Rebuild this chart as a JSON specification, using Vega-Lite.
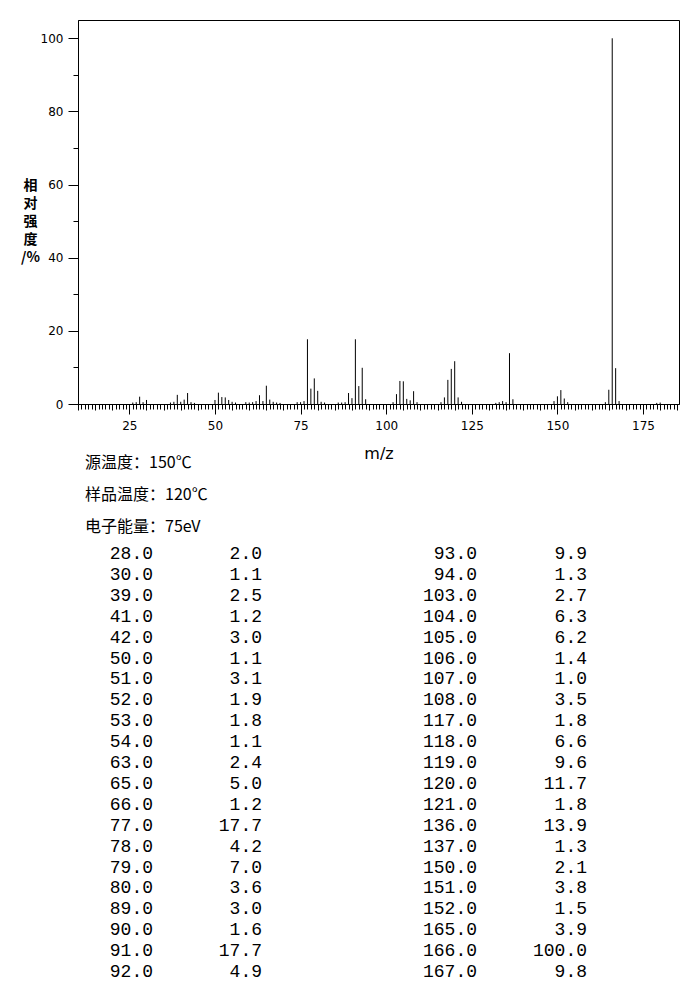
{
  "$schema": "https://vega.github.io/schema/vega-lite/v6.json",
  "description": "Mass spectrum with peak list (m/z vs relative intensity).",
  "autosize": {"type": "none"},
  "padding": {"left": 78, "top": 20, "right": 11, "bottom": 588},
  "background": "white",
  "width": 601,
  "height": 384,
  "config": {"view": {"stroke": "black", "strokeWidth": 1}},
  "datasets": {
    "peaks": [
      {"mz": 26, "intensity": 0.4}, {"mz": 27, "intensity": 0.5}, {"mz": 28, "intensity": 2.0},
      {"mz": 29, "intensity": 0.5}, {"mz": 30, "intensity": 1.1}, {"mz": 37, "intensity": 0.4},
      {"mz": 38, "intensity": 0.6}, {"mz": 39, "intensity": 2.5}, {"mz": 40, "intensity": 0.6},
      {"mz": 41, "intensity": 1.2}, {"mz": 42, "intensity": 3.0}, {"mz": 43, "intensity": 0.5},
      {"mz": 44, "intensity": 0.3}, {"mz": 50, "intensity": 1.1}, {"mz": 51, "intensity": 3.1},
      {"mz": 52, "intensity": 1.9}, {"mz": 53, "intensity": 1.8}, {"mz": 54, "intensity": 1.1},
      {"mz": 55, "intensity": 0.6}, {"mz": 56, "intensity": 0.4}, {"mz": 59, "intensity": 0.5},
      {"mz": 60, "intensity": 0.4}, {"mz": 61, "intensity": 0.5}, {"mz": 62, "intensity": 0.8},
      {"mz": 63, "intensity": 2.4}, {"mz": 64, "intensity": 0.8}, {"mz": 65, "intensity": 5.0},
      {"mz": 66, "intensity": 1.2}, {"mz": 67, "intensity": 0.6}, {"mz": 68, "intensity": 0.4},
      {"mz": 69, "intensity": 0.3}, {"mz": 74, "intensity": 0.5}, {"mz": 75, "intensity": 0.5},
      {"mz": 76, "intensity": 0.8}, {"mz": 77, "intensity": 17.7}, {"mz": 78, "intensity": 4.2},
      {"mz": 79, "intensity": 7.0}, {"mz": 80, "intensity": 3.6}, {"mz": 81, "intensity": 0.6},
      {"mz": 82, "intensity": 0.4}, {"mz": 86, "intensity": 0.4}, {"mz": 87, "intensity": 0.4},
      {"mz": 88, "intensity": 0.5}, {"mz": 89, "intensity": 3.0}, {"mz": 90, "intensity": 1.6},
      {"mz": 91, "intensity": 17.7}, {"mz": 92, "intensity": 4.9}, {"mz": 93, "intensity": 9.9},
      {"mz": 94, "intensity": 1.3}, {"mz": 102, "intensity": 0.5}, {"mz": 103, "intensity": 2.7},
      {"mz": 104, "intensity": 6.3}, {"mz": 105, "intensity": 6.2}, {"mz": 106, "intensity": 1.4},
      {"mz": 107, "intensity": 1.0}, {"mz": 108, "intensity": 3.5}, {"mz": 109, "intensity": 0.5},
      {"mz": 116, "intensity": 0.5}, {"mz": 117, "intensity": 1.8}, {"mz": 118, "intensity": 6.6},
      {"mz": 119, "intensity": 9.6}, {"mz": 120, "intensity": 11.7}, {"mz": 121, "intensity": 1.8},
      {"mz": 122, "intensity": 0.6}, {"mz": 132, "intensity": 0.3}, {"mz": 133, "intensity": 0.5},
      {"mz": 134, "intensity": 0.8}, {"mz": 135, "intensity": 0.5}, {"mz": 136, "intensity": 13.9},
      {"mz": 137, "intensity": 1.3}, {"mz": 149, "intensity": 0.8}, {"mz": 150, "intensity": 2.1},
      {"mz": 151, "intensity": 3.8}, {"mz": 152, "intensity": 1.5}, {"mz": 153, "intensity": 0.5},
      {"mz": 164, "intensity": 0.5}, {"mz": 165, "intensity": 3.9}, {"mz": 166, "intensity": 100.0},
      {"mz": 167, "intensity": 9.8}, {"mz": 168, "intensity": 0.8}, {"mz": 179, "intensity": 0.3},
      {"mz": 180, "intensity": 0.4}
    ],
    "notes": [
      {"label": "源温度：150℃"},
      {"label": "样品温度：120℃"},
      {"label": "电子能量：75eV"}
    ]
  },
  "resolve": {"scale": {"x": "independent", "y": "independent"}},
  "layer": [
    {
      "data": {"name": "peaks"},
      "mark": {"type": "rule", "color": "black", "strokeWidth": 1},
      "encoding": {
        "x": {
          "field": "mz",
          "type": "quantitative",
          "scale": {"domain": [10, 185.5], "nice": false, "zero": false},
          "axis": {
            "title": "m/z",
            "titleFont": "DejaVu Sans",
            "titleFontSize": 16,
            "titleFontWeight": "normal",
            "titleColor": "black",
            "titlePadding": 14,
            "values": [10, 11, 12, 13, 14, 15, 16, 17, 18, 19, 20, 21, 22, 23, 24, 25, 26, 27, 28, 29,
              30, 31, 32, 33, 34, 35, 36, 37, 38, 39, 40, 41, 42, 43, 44, 45, 46, 47, 48, 49,
              50, 51, 52, 53, 54, 55, 56, 57, 58, 59, 60, 61, 62, 63, 64, 65, 66, 67, 68, 69,
              70, 71, 72, 73, 74, 75, 76, 77, 78, 79, 80, 81, 82, 83, 84, 85, 86, 87, 88, 89,
              90, 91, 92, 93, 94, 95, 96, 97, 98, 99, 100, 101, 102, 103, 104, 105, 106, 107, 108, 109,
              110, 111, 112, 113, 114, 115, 116, 117, 118, 119, 120, 121, 122, 123, 124, 125, 126, 127, 128, 129,
              130, 131, 132, 133, 134, 135, 136, 137, 138, 139, 140, 141, 142, 143, 144, 145, 146, 147, 148, 149,
              150, 151, 152, 153, 154, 155, 156, 157, 158, 159, 160, 161, 162, 163, 164, 165, 166, 167, 168, 169,
              170, 171, 172, 173, 174, 175, 176, 177, 178, 179, 180, 181, 182, 183, 184, 185],
            "labelExpr": "datum.value % 25 === 0 ? datum.label : ''",
            "labelFont": "DejaVu Sans",
            "labelFontSize": 12,
            "labelColor": "black",
            "labelPadding": 6,
            "labelOverlap": false,
            "labelFlush": false,
            "labelBound": false,
            "grid": false,
            "domainColor": "black",
            "tickColor": "black",
            "tickSize": {
              "condition": [
                {"test": "datum.value % 25 === 0", "value": 10},
                {"test": "datum.value % 5 === 0", "value": 6}
              ],
              "value": 5
            }
          }
        },
        "y": {
          "field": "intensity",
          "type": "quantitative",
          "scale": {"domain": [0, 105], "nice": false},
          "axis": {
            "values": [0, 10, 20, 30, 40, 50, 60, 70, 80, 90, 100],
            "labelExpr": "datum.value % 20 === 0 ? datum.label : ''",
            "labelFont": "DejaVu Sans",
            "labelFontSize": 12,
            "labelColor": "black",
            "labelPadding": 5,
            "grid": false,
            "domainColor": "black",
            "tickColor": "black",
            "tickSize": {
              "condition": {"test": "datum.value % 20 === 0", "value": 10},
              "value": 5
            },
            "title": ["相", "对", "强", "度", "/%"],
            "titleAngle": 0,
            "titleFont": "Noto Sans CJK SC",
            "titleFontSize": 14,
            "titleFontWeight": "bold",
            "titleColor": "black",
            "titleLineHeight": 18,
            "titleAlign": "center",
            "titleBaseline": "top",
            "titleX": -48,
            "titleY": 158
          }
        },
        "y2": {"datum": 0}
      }
    },
    {
      "data": {"name": "peaks"},
      "transform": [
        {"filter": "datum.intensity >= 1"},
        {"window": [{"op": "row_number", "as": "idx"}], "sort": [{"field": "mz"}]},
        {"calculate": "datum.idx > 21 ? 1 : 0", "as": "col"},
        {"calculate": "(datum.idx - 1) % 21", "as": "row"}
      ],
      "mark": {"type": "text", "align": "right", "baseline": "middle", "font": "Liberation Mono", "fontSize": 18, "color": "black"},
      "encoding": {
        "x": {"field": "col", "type": "quantitative", "scale": {"domain": [0, 1], "range": [75, 399]}, "axis": null},
        "y": {"field": "row", "type": "quantitative", "scale": {"domain": [0, 20], "range": [534, 952]}, "axis": null},
        "text": {"field": "mz", "type": "quantitative", "format": ".1f"}
      }
    },
    {
      "data": {"name": "peaks"},
      "transform": [
        {"filter": "datum.intensity >= 1"},
        {"window": [{"op": "row_number", "as": "idx"}], "sort": [{"field": "mz"}]},
        {"calculate": "datum.idx > 21 ? 1 : 0", "as": "col"},
        {"calculate": "(datum.idx - 1) % 21", "as": "row"}
      ],
      "mark": {"type": "text", "align": "right", "baseline": "middle", "font": "Liberation Mono", "fontSize": 18, "color": "black"},
      "encoding": {
        "x": {"field": "col", "type": "quantitative", "scale": {"domain": [0, 1], "range": [184, 509]}, "axis": null},
        "y": {"field": "row", "type": "quantitative", "scale": {"domain": [0, 20], "range": [534, 952]}, "axis": null},
        "text": {"field": "intensity", "type": "quantitative", "format": ".1f"}
      }
    },
    {
      "data": {"name": "notes"},
      "mark": {"type": "text", "align": "left", "baseline": "middle", "font": "Noto Sans CJK SC", "fontSize": 16, "color": "black"},
      "encoding": {
        "x": {"datum": 0, "type": "quantitative", "scale": {"domain": [0, 1], "range": [7, 601]}, "axis": null},
        "y": {"field": "label", "type": "nominal", "sort": null, "scale": {"type": "point", "range": [443, 507], "padding": 0}, "axis": null},
        "text": {"field": "label"}
      }
    }
  ]
}
